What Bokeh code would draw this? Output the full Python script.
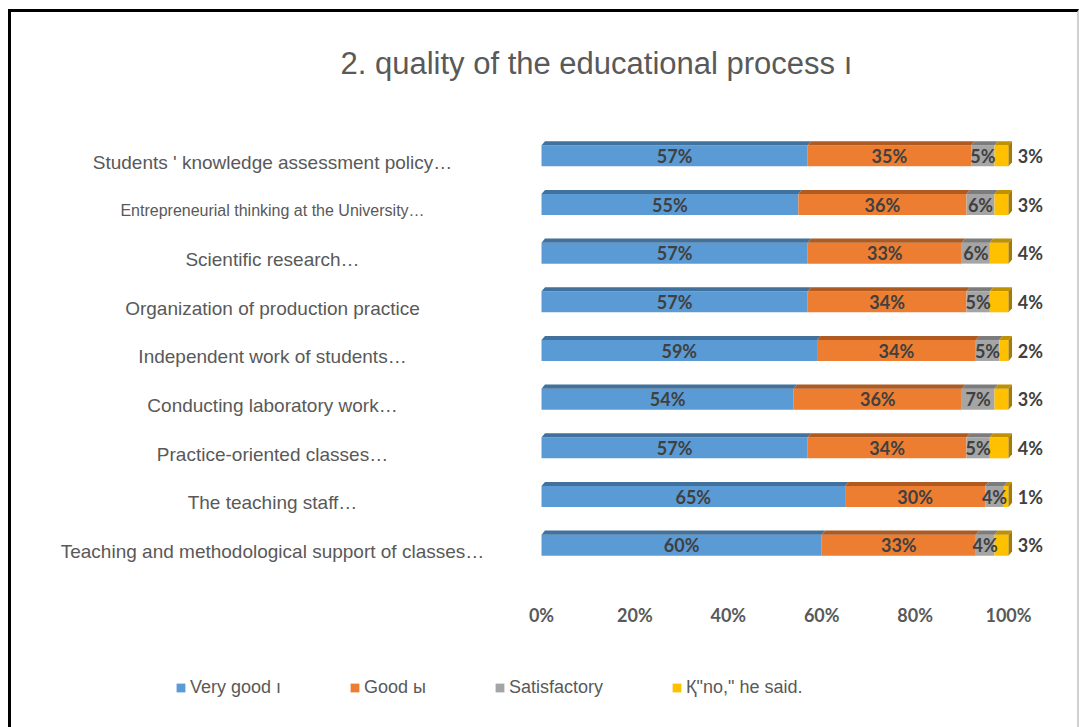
from bokeh.plotting import figure
from bokeh.layouts import column
from bokeh.models import ColumnDataSource, Range1d, FixedTicker, Legend, LegendItem
from bokeh.core.properties import value
from bokeh.embed import file_html
from bokeh.resources import INLINE

# ---------------- data ----------------
categories = [
    "Students ' knowledge assessment policy…",
    "Entrepreneurial thinking at the University…",
    "Scientific research…",
    "Organization of production practice",
    "Independent work of students…",
    "Conducting laboratory work…",
    "Practice-oriented classes…",
    "The teaching staff…",
    "Teaching and methodological support of classes…",
]
very_good = [57, 55, 57, 57, 59, 54, 57, 65, 60]
good = [35, 36, 33, 34, 34, 36, 34, 30, 33]
satisfactory = [5, 6, 6, 5, 5, 7, 5, 4, 4]
said_no = [3, 3, 4, 4, 2, 3, 4, 1, 3]
series_names = ["Very good ı", "Good ы", "Satisfactory", "Қ\"no,\" he said."]
x_ticks = [0, 20, 40, 60, 80, 100]
tick_labels = ["0%", "20%", "40%", "60%", "80%", "100%"]
title_text = "2. quality of the educational process ı"

# ---------------- styles ----------------
face_colors = ["#5b9bd5", "#ed7d31", "#a5a5a5", "#ffc000"]
top_colors = ["#41719c", "#ae5a21", "#7c7c7c", "#bf9000"]
cap_color = "#a67c00"
label_sizes = ["19px", "16px", "19px", "19px", "19px", "19px", "19px", "19px", "19px"]
BAR_H = 0.43
DEPTH_Y = 0.085
DEPTH_X = 0.75

series = [very_good, good, satisfactory, said_no]
n = len(categories)
ypos = [n - 1 - i for i in range(n)]

# ---------------- title strip ----------------
pt = figure(width=1066, height=102, x_range=Range1d(0, 1), y_range=Range1d(0, 1),
            output_backend="svg", toolbar_location=None, min_border=0,
            outline_line_color=None, background_fill_color="white", border_fill_color="white")
pt.axis.visible = False
pt.grid.visible = False
pt.title.text = title_text
pt.title.text_font = "Liberation Sans"
pt.title.text_font_size = "31px"
pt.title.text_font_style = "normal"
pt.title.text_color = "#595959"
pt.title.align = "left"
pt.title.offset = 320
pt.title.standoff = 62

# ---------------- main chart ----------------
p = figure(
    width=1066, height=538,
    x_range=Range1d(-111.56, 111.13), y_range=Range1d(-0.5, n - 0.5),
    output_backend="svg", toolbar_location=None,
    min_border_left=9, min_border_right=17, min_border_top=17, min_border_bottom=83,
    outline_line_color=None, background_fill_color="white", border_fill_color="white",
)
p.title.visible = False
p.xgrid.visible = False
p.ygrid.visible = False
p.yaxis.visible = False

ax = p.xaxis[0]
ax.ticker = FixedTicker(ticks=x_ticks)
ax.major_label_overrides = {t: l for t, l in zip(x_ticks, tick_labels)}
ax.axis_line_color = None
ax.major_tick_line_color = None
ax.minor_tick_line_color = None
ax.major_label_standoff = 28
ax.major_label_text_font = "Lato"
ax.major_label_text_font_size = "18px"
ax.major_label_text_font_style = "bold"
ax.major_label_text_color = "#595959"

# bars
sources = []
starts = [0.0] * n
for k, vals in enumerate(series):
    lefts = starts[:]
    rights = [l + v for l, v in zip(lefts, vals)]
    src = ColumnDataSource(dict(y=ypos, left=lefts, right=rights))
    sources.append(src)
    p.hbar(y="y", left="left", right="right", height=BAR_H, source=src,
           fill_color=face_colors[k], line_color=None)
    # top face (3D)
    xs = [[l, rr, rr + DEPTH_X, l + DEPTH_X] for l, rr in zip(lefts, rights)]
    ys = [[y + BAR_H / 2, y + BAR_H / 2, y + BAR_H / 2 + DEPTH_Y, y + BAR_H / 2 + DEPTH_Y] for y in ypos]
    p.patches(xs=xs, ys=ys, fill_color=top_colors[k], line_color=None)
    starts = rights

# right cap
xs = [[r, r + DEPTH_X, r + DEPTH_X, r] for r in starts]
ys = [[y - BAR_H / 2, y - BAR_H / 2 + DEPTH_Y, y + BAR_H / 2 + DEPTH_Y, y + BAR_H / 2] for y in ypos]
p.patches(xs=xs, ys=ys, fill_color=cap_color, line_color=None)

# data labels
starts = [0.0] * n
for k, vals in enumerate(series):
    lefts = starts[:]
    rights = [l + v for l, v in zip(lefts, vals)]
    if k < len(series) - 1:
        lx = [(l + rr) / 2 for l, rr in zip(lefts, rights)]
        align = "center"
    else:
        lx = [rr + 2.0 for rr in rights]
        align = "left"
    src = ColumnDataSource(dict(x=lx, y=ypos, t=[f"{v}%" for v in vals]))
    p.text(x="x", y="y", text="t", source=src, text_align=align, text_baseline="middle",
           text_font=value("Lato"), text_font_size="18px", text_font_style="bold",
           text_color="#404040")
    starts = rights

# category labels
src = ColumnDataSource(dict(x=[-57.6] * n, y=[y - 0.13 for y in ypos], t=categories, s=label_sizes))
p.text(x="x", y="y", text="t", source=src, text_align="center", text_baseline="middle",
       text_font=value("Liberation Sans"), text_font_size="s", text_color="#595959")

# ---------------- legend strip (hidden copies of the bar series) ----------------
pl = figure(width=1066, height=78, x_range=Range1d(0, 1), y_range=Range1d(0, 1),
            output_backend="svg", toolbar_location=None, min_border=0,
            outline_line_color=None, background_fill_color="white", border_fill_color="white")
pl.axis.visible = False
pl.grid.visible = False
leg_renderers = []
for k, src in enumerate(sources):
    r = pl.hbar(y="y", left="left", right="right", height=BAR_H, source=src,
                fill_color=face_colors[k], line_color=None, visible=False)
    leg_renderers.append(r)
legend = Legend(items=[LegendItem(label=nm, renderers=[r]) for nm, r in zip(series_names, leg_renderers)],
                orientation="horizontal", location=(155, 32), spacing=68,
                glyph_width=11, glyph_height=11, label_standoff=4,
                label_text_font="Liberation Sans", label_text_font_size="18px",
                label_text_color="#595959", border_line_color=None,
                background_fill_alpha=0, padding=0, margin=0,
                click_policy="none", inactive_fill_alpha=0)
pl.add_layout(legend)

layout = column(pt, p, pl, spacing=0)
layout.margin = (9, 0, 0, 8)
layout.styles = {"border-top": "3px solid black", "border-left": "3px solid black",
                 "border-right": "2px solid #d0d0d0"}

open("out.html", "w").write(file_html(layout, INLINE))
